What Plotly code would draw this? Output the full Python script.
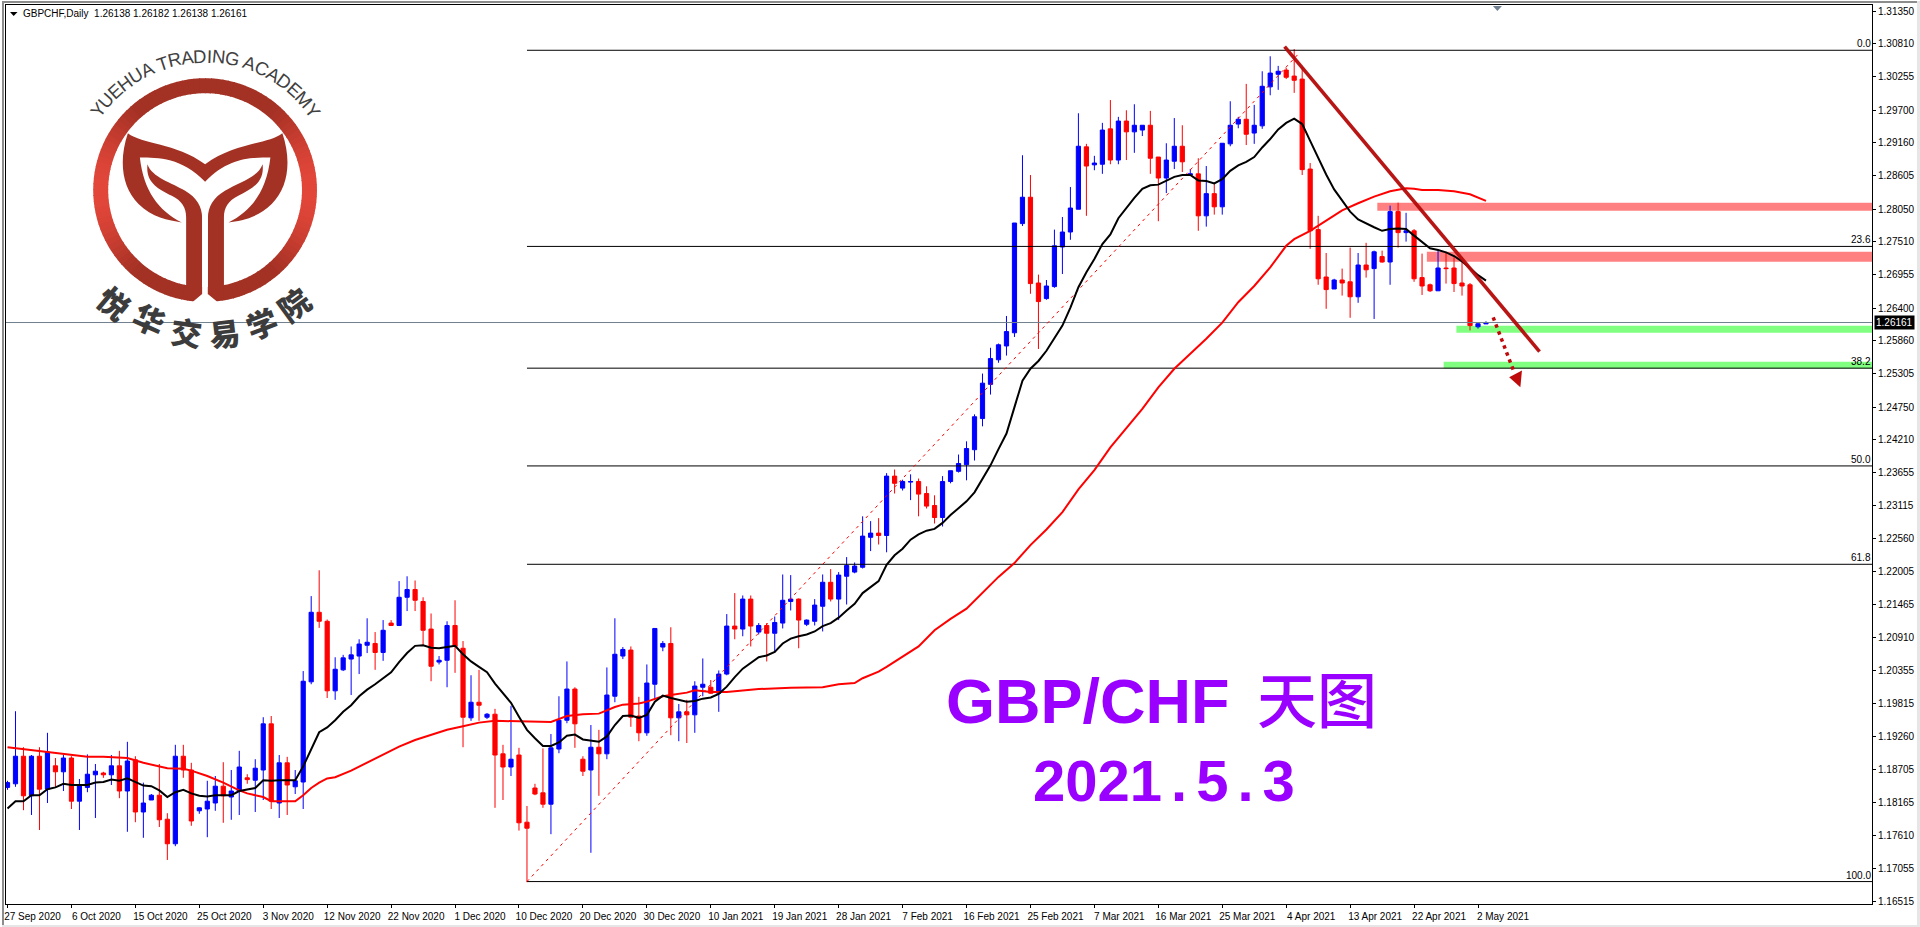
import math
import plotly.graph_objects as go

# ---------- DATA ----------
symbol_header = "GBPCHF,Daily\u00a0\u00a01.26138 1.26182 1.26138 1.26161"
last_price = 1.26161

opens = [
1.1841,1.1847,1.1893,1.1827,1.1893,1.1838,1.1877,1.1867,1.1890,1.1818,
1.1841,1.1862,1.1865,1.1862,1.1877,1.1835,1.1887,1.1800,1.1820,1.1828,
1.1788,1.1747,1.1893,1.1870,1.1802,1.1805,1.1815,1.1843,1.1825,1.1835,
1.1857,1.1853,1.1870,1.1947,1.1815,1.1882,1.1842,1.1850,1.2017,1.2133,
1.2118,1.2002,1.2037,1.2055,1.2060,1.2078,1.2081,1.2066,1.2115,1.2111,
1.2158,1.2171,1.2151,1.2105,1.2050,1.2053,1.2111,1.2073,1.1957,1.1983,
1.1958,1.1963,1.1897,1.1875,1.1895,1.1783,1.1840,1.1832,1.1813,1.1905,
1.1953,1.2005,1.1888,1.1870,1.1908,1.1897,1.1993,1.2060,1.2070,1.1960,
1.1932,1.2013,1.2075,1.2081,1.1957,1.1967,1.1962,1.2008,1.2008,1.1998,
1.2030,1.2110,1.2105,1.2155,1.2100,1.2111,1.2098,1.2115,1.2151,1.2155,
1.2113,1.2118,1.2143,1.2183,1.2155,1.2193,1.2200,1.2208,1.2258,1.2265,
1.2261,1.2360,1.2340,1.2350,1.2351,1.2331,1.2311,1.2291,1.2351,1.2368,
1.2379,1.2404,1.2456,1.2513,1.2554,1.2577,1.2599,1.2781,1.2825,1.2682,
1.2656,1.2676,1.2742,1.2767,1.2805,1.2909,1.2879,1.2880,1.2939,1.2887,
1.2952,1.2934,1.2937,1.2945,1.2892,1.2857,1.2885,1.2910,1.2862,1.2864,
1.2794,1.2831,1.2809,1.2914,1.2947,1.2955,1.2932,1.2944,1.3009,1.3030,
1.3037,1.3027,1.3022,1.2872,1.2771,1.2692,1.2672,1.2687,1.2684,1.2659,
1.2712,1.2706,1.2726,1.2717,1.2801,1.2766,1.2769,1.2691,1.2679,1.2669,
1.2707,1.2707,1.2682,1.2679,1.2609,1.26138]
highs = [
1.1852,1.1968,1.1908,1.1895,1.1908,1.1932,1.1890,1.1895,1.1893,1.1855,
1.1896,1.1880,1.1867,1.1895,1.1902,1.1917,1.1893,1.1849,1.1830,1.1880,
1.1798,1.1912,1.1912,1.1882,1.1808,1.1852,1.1860,1.1883,1.1870,1.1902,
1.1863,1.1888,1.1958,1.1960,1.1895,1.1892,1.1870,1.2035,1.2160,1.2203,
1.2121,1.2058,1.2062,1.2076,1.2088,1.2123,1.2100,1.2120,1.2120,1.2185,
1.2193,1.2186,1.2158,1.2131,1.2060,1.2118,1.2153,1.2085,1.2028,1.2037,
1.1965,1.1972,1.1912,1.1977,1.1907,1.1810,1.1847,1.1906,1.1930,1.1993,
1.2051,1.2008,1.1893,1.1945,1.1937,1.2041,1.2123,1.2075,1.2076,1.1992,
1.2046,1.2106,1.2085,1.2108,1.1980,1.1987,1.2018,1.2056,1.2020,1.2036,
1.2130,1.2165,1.2161,1.2161,1.2115,1.2115,1.2126,1.2196,1.2195,1.2156,
1.2121,1.2155,1.2196,1.2205,1.2200,1.2225,1.2216,1.2293,1.2285,1.2290,
1.2365,1.2371,1.2354,1.2363,1.2356,1.2343,1.2328,1.2360,1.2369,1.2396,
1.2418,1.2463,1.2531,1.2574,1.2581,1.2627,1.2782,1.2895,1.2862,1.2696,
1.2687,1.2771,1.2792,1.2842,1.2965,1.2914,1.2894,1.2949,1.2987,1.2959,
1.2970,1.2980,1.2945,1.2969,1.2892,1.2915,1.2957,1.2945,1.2872,1.2890,
1.2877,1.2847,1.2915,1.2985,1.2959,1.3014,1.2979,1.3035,1.3060,1.3044,
1.3041,1.3072,1.3042,1.2882,1.2794,1.2732,1.2689,1.2706,1.2741,1.2732,
1.2749,1.2736,1.2736,1.2811,1.2816,1.2799,1.2772,1.2731,1.2681,1.2736,
1.2733,1.2725,1.2719,1.2682,1.2616,1.26182]
lows = [
1.1837,1.1842,1.1803,1.1795,1.1770,1.1815,1.1842,1.1835,1.1805,1.1770,
1.1833,1.1790,1.1857,1.1845,1.1823,1.1767,1.1783,1.1757,1.1820,1.1775,
1.1720,1.1743,1.1857,1.1777,1.1797,1.1758,1.1802,1.1782,1.1787,1.1795,
1.1847,1.1800,1.1820,1.1805,1.1790,1.1795,1.1830,1.1805,1.2013,1.2107,
1.1990,1.1987,1.2035,1.1995,1.2030,1.2065,1.2037,1.2052,1.2110,1.2110,
1.2135,1.2135,1.2078,1.2018,1.2046,1.2008,1.2032,1.1908,1.1952,1.1952,
1.1955,1.1807,1.1820,1.1860,1.1769,1.1683,1.1828,1.1807,1.1763,1.1898,
1.1948,1.1907,1.1860,1.1732,1.1827,1.1888,1.1983,1.2055,1.1942,1.1918,
1.1927,1.1988,1.2068,1.1928,1.1918,1.1915,1.1932,1.1993,1.1997,1.1967,
1.2028,1.2088,1.2093,1.2076,1.2096,1.2051,1.2066,1.2106,1.2136,1.2073,
1.2110,1.2111,1.2101,1.2151,1.2120,1.2146,1.2198,1.2206,1.2235,1.2246,
1.2233,1.2331,1.2336,1.2320,1.2293,1.2306,1.2281,1.2276,1.2348,1.2366,
1.2353,1.2386,1.2443,1.2496,1.2549,1.2561,1.2592,1.2777,1.2664,1.2572,
1.2654,1.2674,1.2697,1.2754,1.2805,1.2794,1.2870,1.2864,1.2880,1.2880,
1.2887,1.2899,1.2927,1.2864,1.2785,1.2832,1.2872,1.2867,1.2862,1.2769,
1.2776,1.2796,1.2796,1.2910,1.2940,1.2912,1.2914,1.2939,1.2995,1.3004,
1.3022,1.2999,1.2862,1.2739,1.2679,1.2639,1.2672,1.2661,1.2624,1.2649,
1.2691,1.2622,1.2716,1.2679,1.2741,1.2751,1.2684,1.2662,1.2667,1.2669,
1.2681,1.2667,1.2661,1.2603,1.2606,1.26138]
closes = [
1.1849,1.1893,1.1827,1.1893,1.1838,1.1900,1.1867,1.1890,1.1818,1.1845,
1.1863,1.1868,1.1862,1.1877,1.1835,1.1885,1.1800,1.1815,1.1828,1.1787,
1.1747,1.1893,1.1870,1.1785,1.1807,1.1818,1.1843,1.1827,1.1835,1.1875,
1.1854,1.1873,1.1947,1.1818,1.1882,1.1845,1.1852,1.2018,1.2133,1.2118,
1.2002,1.2038,1.2057,1.2062,1.2080,1.2083,1.2066,1.2103,1.2111,1.2158,
1.2171,1.2153,1.2103,1.2043,1.2053,1.2111,1.2076,1.1958,1.1983,1.1978,
1.1963,1.1895,1.1875,1.1888,1.1782,1.1773,1.1830,1.1813,1.1907,1.1953,
1.2005,1.1947,1.1868,1.1908,1.1897,1.1995,1.2063,1.2071,1.1958,1.1932,
1.2015,1.2106,1.2081,1.1957,1.1967,1.1962,1.2010,1.2013,1.1998,1.2030,
1.2110,1.2105,1.2155,1.2110,1.2111,1.2098,1.2116,1.2153,1.2155,1.2120,
1.2120,1.2145,1.2183,1.2155,1.2195,1.2211,1.2210,1.2260,1.2265,1.2261,
1.2360,1.2348,1.2351,1.2351,1.2330,1.2310,1.2291,1.2351,1.2369,1.2381,
1.2406,1.2459,1.2515,1.2556,1.2579,1.2601,1.2782,1.2825,1.2681,1.2651,
1.2677,1.2744,1.2767,1.2807,1.2910,1.2877,1.2882,1.2937,1.2887,1.2952,
1.2934,1.2945,1.2945,1.2890,1.2857,1.2887,1.2910,1.2884,1.2864,1.2794,
1.2831,1.2809,1.2915,1.2945,1.2955,1.2930,1.2945,1.3010,1.3032,1.3035,
1.3025,1.3020,1.2871,1.2769,1.2689,1.2671,1.2687,1.2682,1.2659,1.2712,
1.2704,1.2734,1.2717,1.2801,1.2766,1.2769,1.2689,1.2677,1.2669,1.2707,
1.2706,1.2681,1.2677,1.2611,1.2614,1.26161]

ma_fast_x = [0,1,2,3,4,5,6,7,8,10,11,12,13,14,15,17,18,19,20,21,22,23,24,25,26,28,29,30,31,32,33,34,36,37,38,39,
 40,41,42,43,44,45,46,47,48,49,50,51,52,53,54,55,56,57,58,59,60,61,62,63,64,65,66,67,68,69,70,71,72,73,74,75,76,77,78,79,
 80,81,82,83,84,85,86,87,88,89,90,91,92,93,94,95,96,97,98,99,100,101,102,103,104,105,106,107,108,109,110,111,112,113,114,115,116,117,118,119,120,121,122,123,124,125,126,
 127,128,129,130,131,132,133,134,135,136,137,138,139,140,141,142,143,144,145,146,147,148,149,150,151,152,153,154,155,156,157,158,159,160,161,162,163,164,165,166,
 167,168,169,170,171,172,173,174,175,176,177,178,179,180,181,182,183,184,185]
ma_fast_y = [1.1806,1.1818,1.1818,1.1828,1.1828,1.1838,1.1841,1.1847,1.1845,1.1845,1.1849,1.1850,1.1854,1.1852,1.1856,1.1844,1.1843,1.1836,1.1825,1.1833,1.1837,1.1831,1.1827,1.1826,1.1828,1.1828,1.1835,1.1837,1.1840,1.1853,1.1852,1.1853,1.1853,1.1876,1.1906,1.1933,
 1.1941,1.1953,1.1967,1.1978,1.1993,1.2004,1.2013,1.2023,1.2033,1.2050,1.2065,1.2077,1.2078,1.2074,1.2073,1.2075,1.2077,1.2063,1.2051,1.2042,1.2033,1.2014,1.1997,1.1982,1.1959,1.1937,1.1923,1.1910,1.1910,1.1916,1.1927,1.1929,1.1921,1.1919,1.1917,1.1926,1.1945,1.1960,1.1961,1.1957,
 1.1962,1.1984,1.1994,1.1990,1.1987,1.1984,1.1985,1.1989,1.1991,1.1997,1.2009,1.2025,1.2039,1.2049,1.2058,1.2061,1.2067,1.2081,1.2089,1.2093,1.2096,1.2101,1.2110,1.2115,1.2124,1.2136,1.2147,1.2165,1.2175,1.2185,1.2212,1.2228,1.2239,1.2254,1.2263,1.2269,1.2272,1.2282,1.2295,1.2307,1.2318,1.2333,1.2356,1.2378,1.2405,1.2431,1.2475,
 1.2519,1.2539,1.2552,1.2569,1.2591,1.2611,1.2641,1.2675,1.2700,1.2722,1.2747,1.2763,1.2790,1.2808,1.2824,1.2839,1.2845,1.2846,1.2852,1.2859,1.2862,1.2862,1.2853,1.2852,1.2848,1.2855,1.2869,1.2878,1.2884,1.2892,1.2908,1.2922,1.2938,1.2949,1.2956,1.2947,1.2919,1.2891,1.2863,1.2838,
 1.2819,1.2801,1.2788,1.2781,1.2775,1.2769,1.2772,1.2773,1.2772,1.2761,1.2750,1.2740,1.2737,1.2733,1.2727,1.2718,1.2707,1.2695,1.2686]

ma_slow_x = [0,2,4,6,8,10,12,15,17,19,20,22,23,25,27,29,30,32,33,36,37,38,39,40,41,43,45,47,49,51,53,55,57,59,61,64,68,70,
 72,74,75,76,77,79,80,81,82,83,85,86,88,90,92,94,98,102,104,106,107,109,110,112,114,116,118,120,122,124,126,128,130,132,134,136,138,140,142,144,146,148,150,152,154,156,158,160,161,163,165,167,169,171,173,175,176,177,179,181,183,184,185]
ma_slow_y = [1.1908,1.1905,1.1902,1.1899,1.1895,1.1892,1.1892,1.1890,1.1882,1.1876,1.1873,1.1872,1.1869,1.1860,1.1849,1.1836,1.1831,1.1825,1.1818,1.1818,1.1828,1.1840,1.1849,1.1856,1.1858,1.1869,1.1882,1.1896,1.1909,1.1920,1.1928,1.1937,1.1943,1.1949,1.1952,1.1951,1.1950,1.1960,
 1.1963,1.1964,1.1970,1.1975,1.1979,1.1981,1.1984,1.1989,1.1993,1.1995,1.1999,1.2003,1.2000,1.2000,1.2003,1.2005,1.2007,1.2008,1.2013,1.2015,1.2023,1.2034,1.2042,1.2059,1.2076,1.2103,1.2122,1.2139,1.2166,1.2192,1.2215,1.2245,1.2271,1.2300,1.2338,1.2370,1.2408,1.2440,1.2472,1.2508,1.2539,1.2564,1.2589,1.2616,1.2650,1.2677,1.2708,1.2744,1.2755,1.2769,1.2786,1.2803,1.2815,1.2826,1.2835,1.2840,1.2839,1.2837,1.2837,1.2835,1.2830,1.2825,1.2819]

fib_labels = ["0.0", "23.6", "38.2", "50.0", "61.8", "100.0"]
fib_levels = [1.3070, 1.2743, 1.2540, 1.2377, 1.2213, 1.1684]
fib_start_bar = 65
fib_diag_x = [65, 161.6]
fib_diag_y = [1.1684, 1.3065]

resistance_zones = [(171.4, 1.28158, 1.28024), (177.6, 1.27341, 1.27175)]
support_zones = [(181.3, 1.26109, 1.25992), (179.7, 1.25509, 1.25393)]

trend_x = [159.8, 191.7]
trend_y = [1.30761, 1.25676]
arrow_x = [185.9, 188.5]
arrow_y = [1.26247, 1.25340]
arrow_head_x = [189.5, 187.9, 189.3]
arrow_head_y = [1.25360, 1.25248, 1.25081]

y_ticks = [1.31350,1.30810,1.30255,1.29700,1.29160,1.28605,1.28050,1.27510,1.26955,1.26400,1.25860,1.25305,1.24750,1.24210,
           1.23655,1.23115,1.22560,1.22005,1.21465,1.20910,1.20355,1.19815,1.19260,1.18705,1.18165,1.17610,1.17055,1.16515]
x_tick_bars = list(range(0, 185, 8))
x_tick_labels = ["27 Sep 2020","6 Oct 2020","15 Oct 2020","25 Oct 2020","3 Nov 2020","12 Nov 2020","22 Nov 2020","1 Dec 2020",
                 "10 Dec 2020","20 Dec 2020","30 Dec 2020","10 Jan 2021","19 Jan 2021","28 Jan 2021","7 Feb 2021","16 Feb 2021",
                 "25 Feb 2021","7 Mar 2021","16 Mar 2021","25 Mar 2021","4 Apr 2021","13 Apr 2021","22 Apr 2021","2 May 2021"]

# ---------- LAYOUT HELPERS ----------
W, H = 1920, 927
L, T, R, B = 4, 4, 1872, 904
PW, PH = R - L, B - T
X_MIN, X_MAX = -0.1875, 233.3
Y_MAX, Y_MIN = 1.31455, 1.16466
FONT = "Liberation Sans, Arial, sans-serif"
CJK = "Noto Sans CJK SC"

def px(x):
    return (x - L) / PW
def py(y):
    return 1 - (y - T) / PH
def pt(x, y):
    return f"{px(x):.6f} {py(y):.6f}"

shapes = []
annotations = []

def paper_path(d, fill, layer="above"):
    shapes.append(dict(type="path", xref="paper", yref="paper", path=d, fillcolor=fill,
                       line=dict(width=0), layer=layer))

def rect_px(x0, y0, x1, y1, fill, layer="above"):
    shapes.append(dict(type="rect", xref="paper", yref="paper", x0=px(x0), x1=px(x1), y0=py(y0), y1=py(y1),
                       fillcolor=fill, line=dict(width=0), layer=layer))

# window frame
rect_px(0, 0, 1920, 2, "#8c8c8c")
rect_px(0, 0, 2, 927, "#8c8c8c")
rect_px(1917, 0, 1920, 927, "#e6e6e6")
rect_px(0, 925, 1920, 927, "#e6e6e6")

# zones
for x0, hi, lo in resistance_zones:
    shapes.append(dict(type="rect", x0=x0, x1=X_MAX, y0=lo, y1=hi, fillcolor="#FF8080", line=dict(width=0), layer="below"))
for x0, hi, lo in support_zones:
    shapes.append(dict(type="rect", x0=x0, x1=X_MAX, y0=lo, y1=hi, fillcolor="#80FF80", line=dict(width=0), layer="below"))

# arrow head
shapes.append(dict(type="path",
                   path="M {} {} L {} {} L {} {} Z".format(arrow_head_x[0], arrow_head_y[0], arrow_head_x[1], arrow_head_y[1], arrow_head_x[2], arrow_head_y[2]),
                   fillcolor="#BE0A0A", line=dict(width=0)))

# top shift marker + header marker
paper_path(f"M {pt(1492.5,5)} L {pt(1501.5,5)} L {pt(1497,10)} Z", "#708090")
paper_path(f"M {pt(8,11)} L {pt(15.5,11)} L {pt(11.7,15)} Z", "#000000")

# ---- logo ----
CX, CY, RO, RI = 203.3, 189.3, 112, 97
N = 120
for k in range(N):
    a0 = 2 * math.pi * k / N
    a1 = 2 * math.pi * (k + 1.15) / N
    mid = (a0 + a1) / 2
    t = abs(math.cos(mid))
    s = max(0, (t - 0.6) / 0.4) ** 1.5
    c = (int(163 + s * (226 - 163)), int(49 + s * (71 - 49)), int(36 + s * (58 - 36)))
    steps = [a0, (a0 + a1) / 2, a1]
    outer = [(CX + RO * math.cos(a), CY + RO * math.sin(a)) for a in steps]
    inner = [(CX + RI * math.cos(a), CY + RI * math.sin(a)) for a in reversed(steps)]
    d = "M " + " L ".join(pt(*p) for p in outer + inner) + " Z"
    paper_path(d, f"rgb({c[0]},{c[1]},{c[2]})")

def z(x, y):
    return pt(x / 3, y / 3)

def mirror(x):
    return 1219.5 - x

LOGO = "#A33124"
wings = (f"M {z(378,397)} C {z(420,430)} {z(520,425)} {z(610,490)} C {z(700,425)} {z(800,430)} {z(842,397)} "
         f"C {z(870,480)} {z(860,560)} {z(810,610)} C {z(770,650)} {z(720,660)} {z(680,665)} "
         f"C {z(750,630)} {z(795,570)} {z(806,470)} C {z(750,470)} {z(680,470)} {z(610,543)} "
         f"C {z(540,470)} {z(470,470)} {z(414,470)} C {z(425,570)} {z(470,630)} {z(540,665)} "
         f"C {z(500,660)} {z(450,650)} {z(410,610)} C {z(360,560)} {z(350,480)} {z(378,397)} Z")
paper_path(wings, LOGO)

for m in (lambda v: v, mirror):
    stem = (f"M {z(m(437),490)} C {z(m(450),530)} {z(m(510),545)} {z(m(550),570)} "
            f"C {z(m(585),590)} {z(m(601),620)} {z(m(601),650)} L {z(m(601),880)} L {z(m(580),900)} "
            f"L {z(m(553),895)} L {z(m(553),650)} C {z(m(553),620)} {z(m(540),600)} {z(m(510),585)} "
            f"C {z(m(470),565)} {z(m(430),545)} {z(m(437),490)} Z")
    paper_path(stem, LOGO)
paper_path(f"M {z(601,640)} L {z(618,640)} L {z(618,880)} L {z(652,908)} L {z(568,908)} L {z(601,880)} Z", "#FFFFFF")

# curved English logo text
logo_en = "YUEHUA TRADING ACADEMY"
adv = dict(Y=667, U=722, E=667, H=722, A=667, T=611, R=722, D=722, I=278, N=722, G=778, C=722, M=833)
adv[" "] = 278
LOGO_FS, LOGO_R = 18.5, 134
total = sum(adv[c] for c in logo_en) * LOGO_FS / 1000
pos = -total / 2
for c in logo_en:
    w = adv[c] * LOGO_FS / 1000
    if c != " ":
        th = (pos + w / 2) / LOGO_R
        annotations.append(dict(text=c, xref="paper", yref="paper", x=px(CX + LOGO_R * math.sin(th)), y=py(CY - LOGO_R * math.cos(th)),
                                textangle=math.degrees(th), showarrow=False, xanchor="center", yanchor="middle",
                                font=dict(family=FONT, size=LOGO_FS, color="#404040")))
    pos += w

# Chinese logo text
logo_cn = "悦华交易学院"
cn_x = [112.7, 148, 185, 223, 260, 292]
cn_y = [302, 318, 331, 332, 322, 303]
cn_a = [40, 24, 8, -7, -21, -36]
for c, x, y, a in zip(logo_cn, cn_x, cn_y, cn_a):
    annotations.append(dict(text=c, xref="paper", yref="paper", x=px(x), y=py(y), textangle=a, showarrow=False,
                            xanchor="center", yanchor="middle",
                            font=dict(family=CJK, size=31, color="#3c3c3c", weight=900)))

# header
annotations.append(dict(text=symbol_header, xref="paper", yref="paper", x=px(19.5), y=py(12.5), showarrow=False,
                        xanchor="left", yanchor="middle", font=dict(family=FONT, size=10, color="#000000")))

# fib labels
for lab, lev in zip(fib_labels, fib_levels):
    annotations.append(dict(text=lab, xref="paper", yref="y", x=px(1871.5), y=lev, showarrow=False, xanchor="right",
                            yanchor="bottom", borderpad=0, font=dict(family=FONT, size=10, color="#000000")))

# bid tag
annotations.append(dict(text=f"{last_price:.5f}", xref="paper", yref="y", x=px(1874), y=last_price, showarrow=False,
                        xanchor="left", yanchor="middle", bgcolor="#000000", borderpad=1,
                        font=dict(family=FONT, size=10, color="#FFFFFF")))

# big title
PURPLE = "#9900FF"
annotations.append(dict(
    text=f"<b>GBP/CHF</b><span style='letter-spacing:10px'> </span><span style='font-family:{CJK};font-size:60px;font-weight:500'>天图</span>",
    xref="paper", yref="paper", x=px(1161), y=py(696), showarrow=False, xanchor="center", yanchor="middle",
    font=dict(family=FONT, size=63, color=PURPLE)))
annotations.append(dict(
    text="<b>202<span style='letter-spacing:9px'>1.5.</span>3</b>",
    xref="paper", yref="paper", x=px(1163), y=py(780), showarrow=False, xanchor="center", yanchor="middle",
    font=dict(family=FONT, size=58, color=PURPLE)))

# ---------- FIGURE ----------
fig = go.Figure()
bars = list(range(len(opens)))

for lev in fib_levels:
    fig.add_trace(go.Scatter(x=[fib_start_bar, X_MAX], y=[lev, lev], mode="lines", line=dict(color="#000000", width=1),
                             showlegend=False, hoverinfo="skip"))
fig.add_trace(go.Scatter(x=[X_MIN, X_MAX], y=[last_price, last_price], mode="lines", line=dict(color="#708090", width=1),
                         showlegend=False, hoverinfo="skip"))
fig.add_trace(go.Scatter(x=fib_diag_x, y=fib_diag_y, mode="lines", line=dict(color="#FF0000", width=1, dash="3px,4px"),
                         showlegend=False, hoverinfo="skip"))

fig.add_trace(go.Candlestick(x=bars, open=opens, high=highs, low=lows, close=closes, whiskerwidth=0,
                             increasing=dict(line=dict(color="#0000FF", width=1), fillcolor="#0000FF"),
                             decreasing=dict(line=dict(color="#FF0000", width=1), fillcolor="#FF0000"),
                             showlegend=False))

fig.add_trace(go.Scatter(x=ma_slow_x, y=ma_slow_y, mode="lines", line=dict(color="#FF0000", width=2), showlegend=False, hoverinfo="skip"))
fig.add_trace(go.Scatter(x=ma_fast_x, y=ma_fast_y, mode="lines", line=dict(color="#000000", width=2), showlegend=False, hoverinfo="skip"))
fig.add_trace(go.Scatter(x=trend_x, y=trend_y, mode="lines", line=dict(color="rgba(180,8,8,0.95)", width=3.6), showlegend=False, hoverinfo="skip"))
fig.add_trace(go.Scatter(x=arrow_x, y=arrow_y, mode="lines", line=dict(color="#BE0A0A", width=3.5, dash="3.5px,4px"), showlegend=False, hoverinfo="skip"))

fig.update_layout(
    width=W, height=H,
    margin=dict(l=L, t=T, r=W - R, b=H - B, pad=0),
    paper_bgcolor="#FFFFFF", plot_bgcolor="#FFFFFF",
    boxgap=0.25, showlegend=False,
    shapes=shapes, annotations=annotations,
    xaxis=dict(range=[X_MIN, X_MAX], type="linear", rangeslider=dict(visible=False), showgrid=False, zeroline=False,
               tickmode="array", tickvals=x_tick_bars, ticktext=x_tick_labels, ticks="outside", ticklen=3, tickcolor="#000000",
               ticklabelshift=25, ticklabelstandoff=0, tickangle=0,
               showline=True, mirror=True, linecolor="#000000", linewidth=1,
               tickfont=dict(family=FONT, size=10, color="#000000")),
    yaxis=dict(range=[Y_MIN, Y_MAX], side="right", showgrid=False, zeroline=False, tickmode="array", tickvals=y_ticks,
               ticktext=[f"{v:.5f}" for v in y_ticks], ticks="outside", ticklen=3, tickcolor="#000000",
               showline=True, mirror=True, linecolor="#000000", linewidth=1,
               tickfont=dict(family=FONT, size=10, color="#000000")),
)

fig.write_html("out.html", config=dict(displayModeBar=False),
               post_script="document.body.style.margin='0';document.body.style.overflow='hidden';")
